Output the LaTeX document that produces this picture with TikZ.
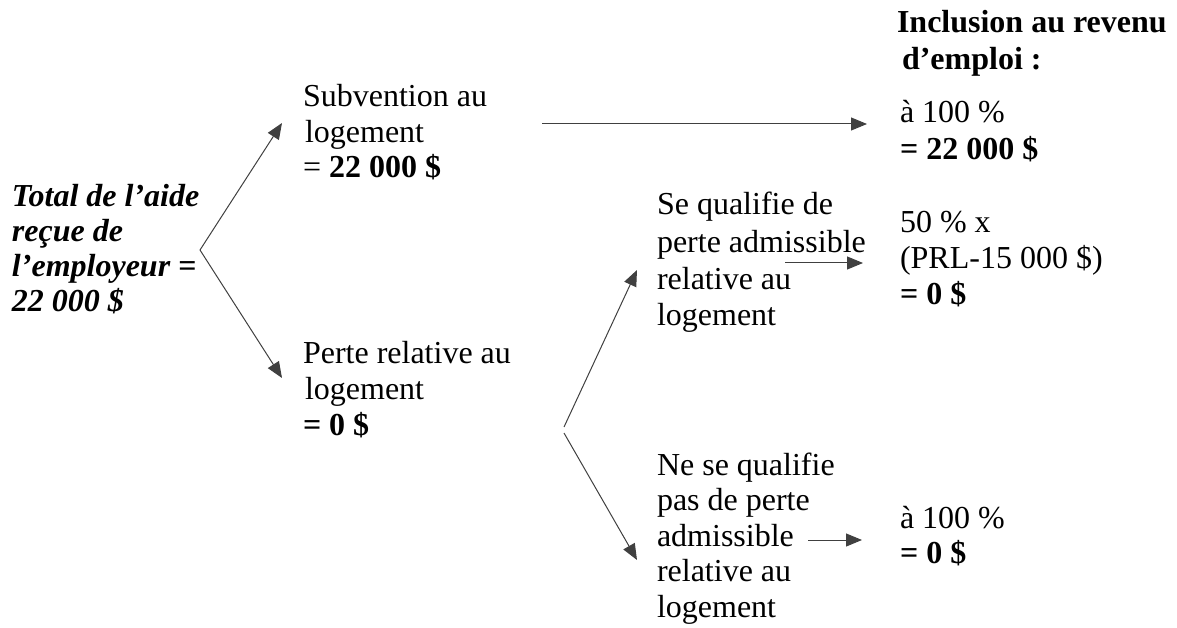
\documentclass[tikz,border=0pt]{standalone}
\usepackage{fontspec}
\setmainfont{Liberation Serif}
\usetikzlibrary{arrows.meta}
\newcommand\blk[1]{\begin{tabular}[t]{@{}l@{}}#1\end{tabular}}
\begin{document}
\begin{tikzpicture}[x=1pt,y=-1pt,
  txt/.style={anchor=base west, inner sep=0pt, outer sep=0pt, font=\fontsize{32}{36}\selectfont},
  arr/.style={draw=black!75, line width=1pt, -{Triangle[length=16pt,width=13pt]}}]
\useasboundingbox (0,0) rectangle (1177,628);

% texts
\node[txt, font=\fontsize{32}{37}\selectfont\bfseries] (title) at (897,33)
  {\blk{Inclusion au revenu\\\hspace{5pt}d’emploi :}};
\node[txt, font=\fontsize{32}{35}\selectfont\bfseries\itshape] (total) at (12,207)
  {\blk{Total de l’aide\\reçue de\\l’employeur =\\22 000 \$}};
\node[txt, font=\fontsize{32}{35.5}\selectfont] (subv) at (303,107)
  {\blk{Subvention au\\\hspace{2pt}logement\\= \textbf{22 000 \$}}};
\node[txt, font=\fontsize{32}{36}\selectfont] (perte) at (303,363)
  {\blk{Perte relative au\\\hspace{2pt}logement\\\textbf{= 0 \$}}};
\node[txt, font=\fontsize{32}{37}\selectfont] (qual) at (657,215)
  {\blk{Se qualifie de\\perte admissible\\relative au\\logement}};
\node[txt, font=\fontsize{32}{35.5}\selectfont] (nqual) at (657,475)
  {\blk{Ne se qualifie\\pas de perte\\admissible\\relative au\\logement}};
\node[txt, font=\fontsize{32}{37}\selectfont] (r1) at (900,123)
  {\blk{à 100 \%\\\textbf{= 22 000 \$}}};
\node[txt, font=\fontsize{32}{36}\selectfont] (r2) at (900,233)
  {\blk{50 \% x\\(PRL-15 000 \$)\\\textbf{= 0 \$}}};
\node[txt, font=\fontsize{32}{35}\selectfont] (r3) at (900,528)
  {\blk{à 100 \%\\\textbf{= 0 \$}}};

% connector points
\coordinate (a1s) at (542,124);
\coordinate (a1e) at (867,124);
\coordinate (v1) at (200,250);
\coordinate (t1u) at (282,123);
\coordinate (t1d) at (282,378);
\coordinate (v2u) at (564,427);
\coordinate (v2d) at (564,433);
\coordinate (t2u) at (637,270);
\coordinate (t2d) at (637,560);
\coordinate (a2s) at (785,263);
\coordinate (a2e) at (863,263);
\coordinate (a3s) at (808,540);
\coordinate (a3e) at (862,540);

% connectors
\draw[arr] (a1s) -- (a1e);
\draw[arr] (v1) -- (t1u);
\draw[arr] (v1) -- (t1d);
\draw[arr] (v2u) -- (t2u);
\draw[arr] (v2d) -- (t2d);
\draw[arr] (a2s) -- (a2e);
\draw[arr] (a3s) -- (a3e);
\end{tikzpicture}
\end{document}
